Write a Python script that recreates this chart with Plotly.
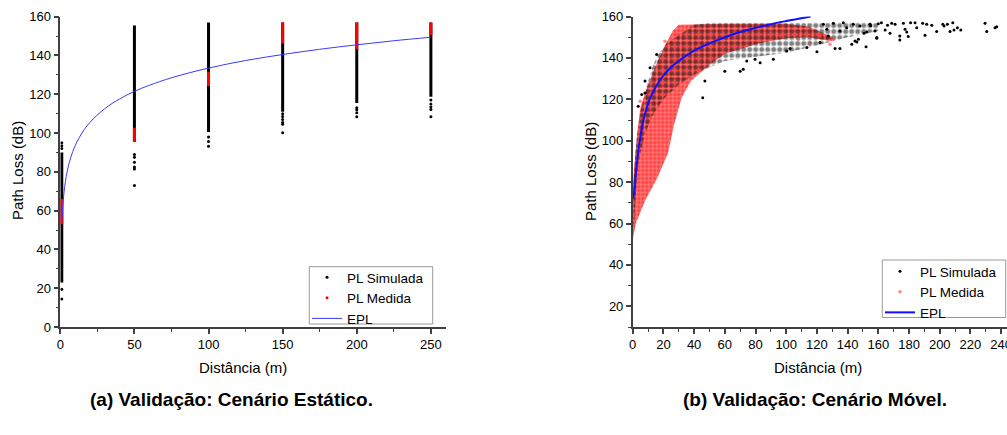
import plotly.graph_objects as go

# ---------------- (a) Static scenario ----------------
static_dist = [1, 50, 100, 150, 200, 250]
static_sim_low = [23, 95.5, 100.6, 111, 115.5, 118.7]
static_sim_high = [90, 155.5, 157, 157, 157, 157]
static_meas_low = [53, 95.5, 124.3, 146.2, 143.2, 150.5]
static_meas_high = [66, 102.7, 131.6, 157, 157, 157]
static_sim_out_x = [1, 1, 1, 1, 1, 50, 50, 50, 50, 50, 50, 100, 100, 100,
                    150, 150, 150, 150, 150, 150, 200, 200, 200, 200,
                    250, 250, 250, 250, 250]
static_sim_out_y = [19.5, 14.5, 92, 93.5, 95, 89, 87.5, 85, 82.5, 81.5, 73, 98, 95.6, 93.2,
                    110, 108.5, 107, 105.5, 104.5, 100.2, 113, 112, 110.5, 108.4,
                    117, 115, 113.5, 112.2, 108.4]
static_epl_x = [1, 1.5, 2, 3, 4, 5, 7, 10, 15, 20, 30, 40, 50, 60, 75, 100, 125, 150, 175, 200, 225, 250]
static_epl_y = [54, 60.5, 65.5, 72.6, 77.6, 81.5, 87.3, 93.5, 100.5, 105.5, 112.6, 117.6, 121.5,
                124.6, 128.5, 133.5, 137.4, 140.5, 143.2, 145.5, 147.6, 149.4]

# ---------------- (b) Mobile scenario ----------------
mobile_epl_d = [0.4, 1, 1.5, 2, 3, 4, 5, 7, 9, 11, 15, 20, 25, 30, 40, 50, 60, 70, 80, 90, 100, 116]
mobile_epl_v = [72, 76, 79.5, 84, 90.5, 97, 102, 110, 115.5, 120, 126, 131.5, 135.5, 138.5,
                143.5, 147, 150, 152.5, 154.5, 156.3, 157.8, 160]

# dense cloud envelopes (upper / lower edges)
mobile_sim_up_d = [0.3, 1, 2, 3, 5, 8, 12, 16, 22, 30, 40, 50, 80, 120, 160]
mobile_sim_up_v = [72, 86, 96, 104, 114, 123, 134, 141, 147, 151, 156, 157, 157, 157, 157]
mobile_sim_lo_d = [0.3, 1, 3, 5, 8, 12, 20, 30, 40, 50, 60, 80, 100, 120, 140, 160]
mobile_sim_lo_v = [55, 62, 84, 94, 103, 111, 120, 127, 132, 135.5, 138.5, 140.5, 142.5, 146, 150, 153]

mobile_meas_up_d = [0.2, 1, 3, 5, 9, 16, 21, 26, 30, 60, 100, 115, 130]
mobile_meas_up_v = [80, 88, 104, 116, 125, 138, 146, 153, 156, 156.5, 156.5, 155, 150]
mobile_meas_lo_d = [0.2, 2, 8, 16, 23, 27, 32, 38, 49, 60, 82, 100, 115, 130]
mobile_meas_lo_v = [53, 60, 71, 82, 94, 108, 121, 129, 136, 142, 147, 149.5, 150, 148]

# scattered individual points
mobile_sim_pts_d = [3.6, 5.9, 8, 8, 11.3, 15.6, 45.6, 47, 60, 70, 72, 74.3, 79.7, 83, 91.6,
                    100.3, 102.5, 113.4, 120, 122, 124.2, 126.4, 127.4, 130.7, 131.8, 135, 135,
                    137.2, 139.4, 142.7, 143.7, 144.8, 146, 147, 148, 150.7, 152, 152.4, 154.6,
                    155, 157.8, 159, 159, 160, 162, 164.4, 166, 167.6, 168.7, 170.9, 174, 174,
                    176.3, 177.4, 178.5, 179.5, 181, 183.9, 185, 188.9, 190.4, 191.5, 194.8,
                    198, 202, 202.8, 205, 206.7, 208.5, 209.3, 211.5, 213.7, 229.5, 230.6, 236, 237.1]
mobile_sim_pts_v = [116.7, 122.3, 128.8, 123, 135.3, 141.7, 120.7, 128.8, 133.6, 133.6, 134.5, 138.5,
                    139.3, 137.7, 139.3, 143.3, 144.5, 145, 143, 147.4, 156.2, 153.8, 150.6, 156.7,
                    144.6, 144.5, 153, 157, 154.6, 146.6, 156.2, 148.2, 147.7, 149, 155.4, 151.9,
                    145.4, 152.5, 156.2, 155.5, 153, 149.5, 149.8, 156.5, 157, 153.5, 155.8, 151.9,
                    156.7, 156.2, 150.6, 148.6, 156.7, 153.8, 152.5, 150.3, 157, 157, 154.6, 156.7,
                    150.9, 156.2, 155.8, 152.7, 156.2, 155.4, 156.2, 152.7, 157, 153.5, 154.6, 153.5,
                    156.7, 152.7, 154.6, 155.1]
mobile_meas_pts_d = [4.8, 21, 28.7, 96, 108, 113, 115.5, 122, 128.5, 130.7]
mobile_meas_pts_v = [119, 148, 151.4, 150.6, 149, 151.4, 147.4, 150.6, 146.6, 149]

FONT = "Liberation Sans, Arial, sans-serif"
AXC = "#404040"

fig = go.Figure()

# ---- (a) traces ----
for d, lo, hi in zip(static_dist, static_sim_low, static_sim_high):
    fig.add_trace(go.Scatter(x=[d, d], y=[lo, hi], mode="lines", line=dict(color="black", width=3),
                             showlegend=False, hoverinfo="skip", xaxis="x", yaxis="y"))
fig.add_trace(go.Scatter(x=static_sim_out_x, y=static_sim_out_y, mode="markers",
                         marker=dict(color="black", size=3), showlegend=False, xaxis="x", yaxis="y"))
for d, lo, hi in zip(static_dist, static_meas_low, static_meas_high):
    fig.add_trace(go.Scatter(x=[d, d], y=[lo, hi], mode="lines", line=dict(color="red", width=3),
                             showlegend=False, hoverinfo="skip", xaxis="x", yaxis="y"))
fig.add_trace(go.Scatter(x=[None], y=[None], mode="markers", marker=dict(color="black", size=3),
                         name="PL Simulada", legend="legend", xaxis="x", yaxis="y"))
fig.add_trace(go.Scatter(x=[None], y=[None], mode="markers", marker=dict(color="red", size=3),
                         name="PL Medida", legend="legend", xaxis="x", yaxis="y"))
fig.add_trace(go.Scatter(x=static_epl_x, y=static_epl_y, mode="lines",
                         line=dict(color="#3a3aff", width=1, shape="spline"),
                         name="EPL", legend="legend", xaxis="x", yaxis="y"))

# ---- (b) traces ----
def band(up_d, up_v, lo_d, lo_v):
    return list(up_d) + list(reversed(lo_d)), list(up_v) + list(reversed(lo_v))

bx, by = band(mobile_meas_up_d, mobile_meas_up_v, mobile_meas_lo_d, mobile_meas_lo_v)
fig.add_trace(go.Scatter(x=bx, y=by, mode="lines", line=dict(width=0), fill="toself",
                         fillcolor="rgba(255,30,30,0.6)",
                         fillpattern=dict(shape=".", fgcolor="#ff0000", size=4, solidity=0.5, fillmode="overlay"),
                         showlegend=False, hoverinfo="skip", xaxis="x2", yaxis="y2"))
bx, by = band(mobile_sim_up_d, mobile_sim_up_v, mobile_sim_lo_d, mobile_sim_lo_v)
fig.add_trace(go.Scatter(x=bx, y=by, mode="lines", line=dict(width=0), fill="toself",
                         fillcolor="rgba(0,0,0,0)",
                         fillpattern=dict(shape=".", fgcolor="black", size=6, solidity=0.55, fillmode="overlay"),
                         showlegend=False, hoverinfo="skip", xaxis="x2", yaxis="y2"))
fig.add_trace(go.Scatter(x=mobile_sim_pts_d, y=mobile_sim_pts_v, mode="markers",
                         marker=dict(color="black", size=3), showlegend=False, xaxis="x2", yaxis="y2"))
fig.add_trace(go.Scatter(x=mobile_meas_pts_d, y=mobile_meas_pts_v, mode="markers",
                         marker=dict(color="rgba(255,60,60,0.6)", size=3.5), showlegend=False, xaxis="x2", yaxis="y2"))
fig.add_trace(go.Scatter(x=[None], y=[None], mode="markers", marker=dict(color="black", size=3),
                         name="PL Simulada", legend="legend2", xaxis="x2", yaxis="y2"))
fig.add_trace(go.Scatter(x=[None], y=[None], mode="markers", marker=dict(color="rgba(255,60,60,0.6)", size=3.5),
                         name="PL Medida", legend="legend2", xaxis="x2", yaxis="y2"))
fig.add_trace(go.Scatter(x=mobile_epl_d, y=mobile_epl_v, mode="lines",
                         line=dict(color="#1010ff", width=2, shape="spline"),
                         name="EPL", legend="legend2", xaxis="x2", yaxis="y2"))

W, H = 1007, 435
def px(x):
    return x / W
def py(y):
    return 1 - y / H

common = dict(showline=True, linecolor=AXC, linewidth=1.5, ticks="outside", ticklen=5, tickwidth=1.5,
              tickcolor=AXC, showgrid=False, zeroline=False, automargin=False,
              tickfont=dict(family=FONT, size=13, color="black"))
minor = dict(ticks="outside", ticklen=3, tickwidth=1.2, tickcolor=AXC, showgrid=False)
leg = dict(xanchor="left", yanchor="top", bgcolor="rgba(0,0,0,0)", borderwidth=0,
           font=dict(family=FONT, size=13.5), tracegroupgap=0, itemwidth=30)

fig.update_layout(
    width=W, height=H, autosize=False,
    margin=dict(l=0, r=0, t=0, b=0, pad=0, autoexpand=False),
    paper_bgcolor="white", plot_bgcolor="white",
    font=dict(family=FONT, size=13, color="black"),
    xaxis=dict(domain=[px(60.3), px(445.7)], range=[0, 260], tick0=0, dtick=50,
               minor=dict(dtick=25, **minor), anchor="y", **common),
    yaxis=dict(domain=[py(327), py(16.7)], range=[0, 160], tick0=0, dtick=20,
               minor=dict(dtick=10, **minor), anchor="x", **common),
    xaxis2=dict(domain=[px(632.7), 1.0], range=[0, 243.8], tick0=0, dtick=20, ticklabeloverflow="allow",
                minor=dict(dtick=10, **minor), anchor="y2", **common),
    yaxis2=dict(domain=[py(327), py(16.5)], range=[10, 160], tick0=0, dtick=20,
                minor=dict(dtick=10, **minor), anchor="x2", **common),
    legend=dict(x=px(307), y=py(262), **leg),
    legend2=dict(x=px(880), y=py(256), **leg),
    showlegend=True,
)

# legend frames
fig.add_shape(type="rect", xref="paper", yref="paper", x0=px(309.3), x1=px(432.7), y0=py(324), y1=py(266.7),
              line=dict(color="#9a9a9a", width=1), fillcolor="white", layer="above")
fig.add_shape(type="rect", xref="paper", yref="paper", x0=px(882.3), x1=px(1005.7), y0=py(317.5), y1=py(260),
              line=dict(color="#9a9a9a", width=1), fillcolor="white", layer="above")

ann = [
    dict(text="Path Loss (dB)", x=px(17), y=py(171), textangle=-90),
    dict(text="Distância (m)", x=px(243), y=py(367)),
    dict(text="Path Loss (dB)", x=px(590), y=py(172), textangle=-90),
    dict(text="Distância (m)", x=px(818), y=py(367)),
]
for a in ann:
    fig.add_annotation(xref="paper", yref="paper", showarrow=False, xanchor="center", yanchor="middle",
                       font=dict(family=FONT, size=15, color="black"), **a)
fig.add_annotation(text="<b>(a) Validação: Cenário Estático.</b>", x=px(231.5), y=py(399), xref="paper",
                   yref="paper", showarrow=False, xanchor="center", yanchor="middle",
                   font=dict(family=FONT, size=19, color="black"))
fig.add_annotation(text="<b>(b) Validação: Cenário Móvel.</b>", x=px(815), y=py(399), xref="paper",
                   yref="paper", showarrow=False, xanchor="center", yanchor="middle",
                   font=dict(family=FONT, size=19, color="black"))

fig.write_html("out.html", config={"displayModeBar": False},
               post_script="document.body.style.margin='0';document.body.style.padding='0';")
